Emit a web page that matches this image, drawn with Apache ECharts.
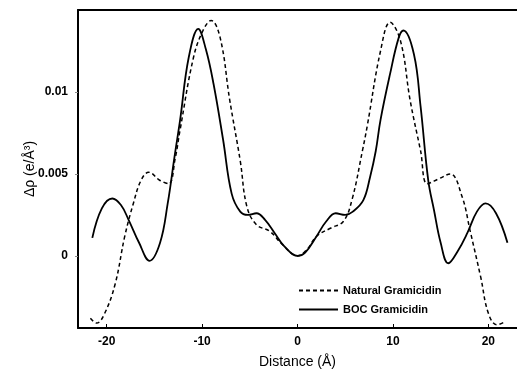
<!DOCTYPE html>
<html><head><meta charset="utf-8">
<script src="https://cdn.jsdelivr.net/npm/echarts@6/dist/echarts.min.js"></script>
<style>html,body{margin:0;padding:0;background:#fff}#c{width:517px;height:376px}</style>
</head><body><div id="c"></div>
<script>
const xTicks = [-20, -10, 0, 10, 20];
const yTicks = [0, 0.005, 0.01];
const seriesNames = ['Natural Gramicidin', 'BOC Gramicidin'];

const naturalX = [-21.7,-21.05,-20.2,-19.1,-18.1,-17.2,-16.4,-15.6,-14.4,-13.5,-12.8,-12.3,-10.9,-9.9,-9.05,-8.1,-7.1,-6.0,-5.3,-4.3,-2.9,-1.6,0,1.0,2.0,3.5,4.8,5.7,6.8,7.3,8.7,9.7,10.8,11.8,12.9,13.6,14.8,16.0,17.25,18.1,19.2,20.0,20.9,21.8];
const naturalY = [-0.0038,-0.0041,-0.0035,-0.0017,0.0012,0.0032,0.0046,0.0051,0.0046,0.0044,0.0060,0.0077,0.0121,0.01375,0.01436,0.0133,0.0095,0.0058,0.0030,0.0019,0.0015,0.0007,0.0,0.0004,0.0012,0.0017,0.0021,0.0034,0.0064,0.0079,0.0125,0.01425,0.0131,0.0095,0.0064,0.0044,0.0047,0.0050,0.0036,0.0015,-0.0013,-0.0035,-0.0042,-0.0040];

const bocX = [-21.5,-20.5,-19.4,-18.5,-17.7,-16.6,-15.5,-14.4,-13.6,-12.9,-12.3,-11.4,-10.4,-9.6,-8.8,-7.8,-6.9,-6.0,-5.2,-4.3,-3.4,-2.4,-1.4,0,0.8,2.0,3.0,4.0,5.0,5.8,6.9,7.6,8.2,8.7,9.7,10.6,11.1,12.2,12.9,13.7,14.3,15.0,15.8,16.8,17.8,18.8,19.7,20.8,22.0];
const bocY = [0.0011,0.0029,0.0035,0.0031,0.0022,0.0008,-0.0003,0.0008,0.0032,0.0060,0.0083,0.0121,0.01385,0.0126,0.0105,0.0071,0.0038,0.0027,0.0025,0.0026,0.0022,0.0014,0.0006,0.0,0.0002,0.0012,0.0021,0.0026,0.0025,0.0027,0.0034,0.0048,0.0064,0.0083,0.0111,0.0133,0.01375,0.0123,0.0091,0.0046,0.0028,0.0008,-0.00045,0.0003,0.0014,0.0027,0.0032,0.0026,0.0008];

const pairs = (xs, ys) => xs.map((x, i) => [x, ys[i]]);

const chart = echarts.init(document.getElementById('c'), null, {renderer: 'canvas'});
const font = '"Liberation Sans", Arial, sans-serif';
chart.setOption({
  animation: false,
  backgroundColor: '#fff',
  grid: {left: 78, top: 10, right: 0, bottom: 48, containLabel: false},
  legend: {
    orient: 'vertical', left: 293, top: 280, itemGap: 8, itemWidth: 39, itemHeight: 12,
    itemStyle: {opacity: 0},
    textStyle: {fontFamily: font, fontSize: 11, fontWeight: 'bold', color: '#000'},
    data: seriesNames
  },
  xAxis: [{
    type: 'value', min: -23, max: 23,
    name: 'Distance (Å)', nameLocation: 'middle', nameGap: 27, nameMoveOverlap: false,
    nameTextStyle: {fontFamily: font, fontSize: 14, color: '#000'},
    axisLine: {onZero: false, lineStyle: {color: '#000', width: 2}},
    axisTick: {inside: true, length: 4, customValues: xTicks, lineStyle: {color: '#000'}},
    axisLabel: {customValues: xTicks, margin: 8, fontFamily: font, fontSize: 12, fontWeight: 'bold', color: '#000'},
    splitLine: {show: false}
  }, {
    type: 'value', min: -23, max: 23, position: 'top',
    axisLine: {show: true, onZero: false, lineStyle: {color: '#000', width: 2}},
    axisTick: {show: false}, axisLabel: {show: false}, splitLine: {show: false}
  }],
  yAxis: {
    type: 'value', min: -0.0044, max: 0.015,
    name: 'Δρ (e/Å³)', nameLocation: 'middle', nameGap: 41, nameRotate: 90, nameMoveOverlap: false,
    nameTextStyle: {fontFamily: font, fontSize: 14, color: '#000'},
    axisLine: {show: true, onZero: false, lineStyle: {color: '#000', width: 2}},
    axisTick: {show: true, length: 3, customValues: yTicks, lineStyle: {color: '#888'}},
    axisLabel: {customValues: yTicks, margin: 10, fontFamily: font, fontSize: 12, fontWeight: 'bold', color: '#000',
      formatter: v => String(+v.toFixed(4))},
    splitLine: {show: false}
  },
  series: [{
    name: seriesNames[0], type: 'line', smooth: 0.4, symbol: 'none',
    data: pairs(naturalX, naturalY),
    lineStyle: {color: '#000', width: 1.5, type: [4, 3]}, itemStyle: {color: '#000'}
  }, {
    name: seriesNames[1], type: 'line', smooth: 0.4, symbol: 'none',
    data: pairs(bocX, bocY),
    lineStyle: {color: '#000', width: 1.8, type: 'solid'}, itemStyle: {color: '#000'}
  }]
});
</script></body></html>
